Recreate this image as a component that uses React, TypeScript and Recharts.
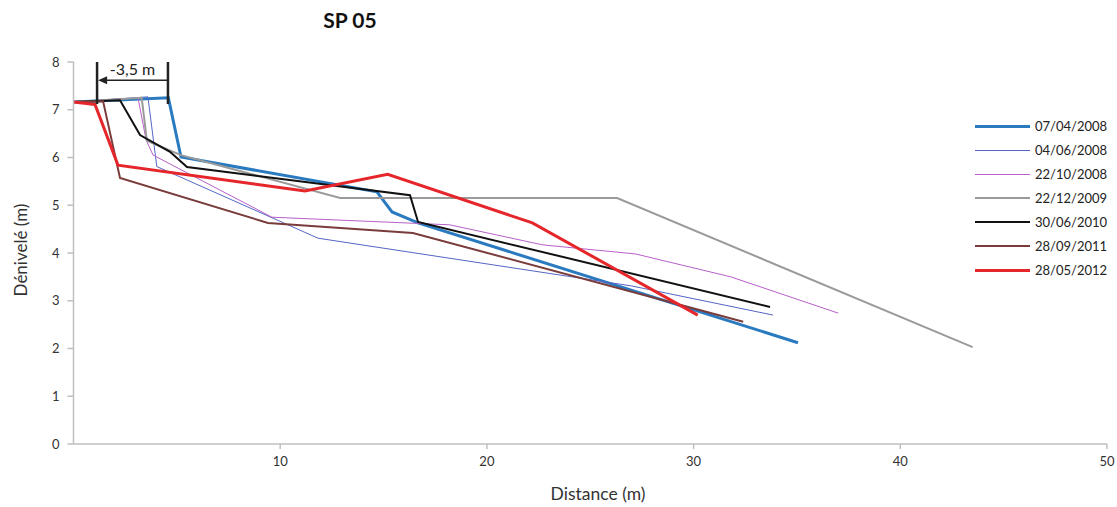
import React from 'react';
import { LineChart, Line, XAxis, YAxis, ReferenceLine, ReferenceDot } from 'recharts';

// profile SP 05 - distance (m) / elevation (m), one pair of arrays per survey
const seriesNames = ['07/04/2008', '04/06/2008', '22/10/2008', '22/12/2009', '30/06/2010', '28/09/2011', '28/05/2012'];

const x070408 = [0, 4.59, 5.2, 14.68, 15.41, 16.67, 35.05];
const y070408 = [7.16, 7.25, 6.01, 5.28, 4.86, 4.63, 2.12];

const x040608 = [0, 3.6, 4.03, 11.83, 27.0, 33.84];
const y040608 = [7.16, 7.27, 5.81, 4.31, 3.31, 2.7];

const x221008 = [0, 3.12, 3.51, 3.85, 9.6, 18.2, 22.7, 27.2, 31.8, 37.0];
const y221008 = [7.16, 7.25, 6.37, 6.05, 4.75, 4.59, 4.17, 3.98, 3.5, 2.74];

const x221209 = [0, 3.3, 3.55, 5.2, 12.9, 26.3, 43.5];
const y221209 = [7.16, 7.25, 6.35, 6.05, 5.15, 5.15, 2.03];

const x300610 = [0, 2.25, 3.22, 4.67, 5.49, 16.28, 16.67, 33.7];
const y300610 = [7.16, 7.2, 6.47, 6.12, 5.8, 5.21, 4.65, 2.87];

const x280911 = [0, 1.43, 2.25, 9.41, 16.42, 32.4];
const y280911 = [7.16, 7.18, 5.57, 4.63, 4.42, 2.56];

const x280512 = [0, 1.04, 2.15, 11.2, 15.2, 22.2, 30.2];
const y280512 = [7.16, 7.11, 5.84, 5.3, 5.65, 4.63, 2.7];

const xTicks = [10, 20, 30, 40, 50];
const yTicks = [0, 1, 2, 3, 4, 5, 6, 7, 8];

// -3,5 m retreat marker
const markLeft = 1.14;
const markRight = 4.57;
const markTop = 8;
const markBottom = 7.12;
const arrowY = 7.62;

const zip = (xs: number[], ys: number[]) => xs.map((x, i) => ({ x, y: ys[i] }));

const series = [
  { data: zip(x070408, y070408), color: '#2a7ac0', width: 3 },
  { data: zip(x040608, y040608), color: '#5565c4', width: 1 },
  { data: zip(x221008, y221008), color: '#b660c8', width: 1 },
  { data: zip(x221209, y221209), color: '#9a9a9a', width: 2 },
  { data: zip(x300610, y300610), color: '#111111', width: 2 },
  { data: zip(x280911, y280911), color: '#7a3b3b', width: 2 },
  { data: zip(x280512, y280512), color: '#e5262b', width: 3 },
];

const font = "Lato, 'Open Sans', sans-serif";

const ArrowHead = (props: any) => {
  const { cx, cy } = props;
  return <path d={`M${cx},${cy} L${cx + 9},${cy - 4} L${cx + 9},${cy + 4} Z`} fill="#222" />;
};

const MarkText = (props: any) => {
  const { cx, cy } = props;
  return (
    <text x={cx} y={cy} textAnchor="middle" dominantBaseline="central" fontSize={16} fill="#222" fontFamily={font}>
      -3,5 m
    </text>
  );
};

const App: React.FC = () => {
  return (
    <div style={{ position: 'absolute', left: 0, top: 0, width: 1117, height: 507, background: '#fff', fontFamily: font }}>
      <div style={{ position: 'absolute', left: 300, top: 7, width: 100, textAlign: 'center', fontSize: 21, fontWeight: 700, color: '#111' }}>
        SP 05
      </div>
      <div
        style={{
          position: 'absolute', left: 20, top: 250, transform: 'translate(-50%, -50%) rotate(-90deg)',
          fontSize: 17, color: '#333', whiteSpace: 'nowrap',
        }}
      >
        Dénivelé (m)
      </div>
      <div style={{ position: 'absolute', left: 498, top: 483, width: 200, textAlign: 'center', fontSize: 17.5, color: '#333' }}>
        Distance (m)
      </div>

      <LineChart width={1117} height={507} data={series[0].data} margin={{ top: 62, right: 10, bottom: 33, left: 13.5 }}>
        <XAxis
          type="number"
          dataKey="x"
          domain={[0, 50]}
          ticks={xTicks}
          tick={{ fontSize: 13, fill: '#333', fontFamily: font }}
          tickSize={5}
          tickMargin={8}
          height={30}
          stroke="#bfbfbf"
          strokeWidth={1.5}
          allowDataOverflow
        />
        <YAxis
          type="number"
          dataKey="y"
          domain={[0, 8]}
          ticks={yTicks}
          tick={{ fontSize: 13, fill: '#333', fontFamily: font }}
          tickSize={6}
          tickMargin={8}
          width={60}
          stroke="#bfbfbf"
          strokeWidth={1.5}
          allowDataOverflow
        />
        {series.map((s, i) => (
          <Line
            key={seriesNames[i]}
            data={s.data}
            dataKey="y"
            name={seriesNames[i]}
            type="linear"
            stroke={s.color}
            strokeWidth={s.width}
            dot={false}
            activeDot={false}
            isAnimationActive={false}
          />
        ))}
        <ReferenceLine segment={[{ x: markLeft, y: markTop }, { x: markLeft, y: markBottom }]} stroke="#222" strokeWidth={2.5} />
        <ReferenceLine segment={[{ x: markRight, y: markTop }, { x: markRight, y: markBottom }]} stroke="#222" strokeWidth={2.5} />
        <ReferenceLine segment={[{ x: markRight, y: arrowY }, { x: markLeft + 0.3, y: arrowY }]} stroke="#222" strokeWidth={1.5} />
        <ReferenceDot x={markLeft + 0.05} y={arrowY} r={0} shape={ArrowHead} />
        <ReferenceDot x={(markLeft + markRight) / 2} y={7.87} r={0} shape={MarkText} />
      </LineChart>

      <div style={{ position: 'absolute', left: 975, top: 114 }}>
        {series.map((s, i) => (
          <div key={seriesNames[i]} style={{ display: 'flex', alignItems: 'center', height: 24 }}>
            <div style={{ width: 55, height: s.width, background: s.color, marginRight: 5 }} />
            <span style={{ fontSize: 13, color: '#222' }}>{seriesNames[i]}</span>
          </div>
        ))}
      </div>
    </div>
  );
};

export default App;
